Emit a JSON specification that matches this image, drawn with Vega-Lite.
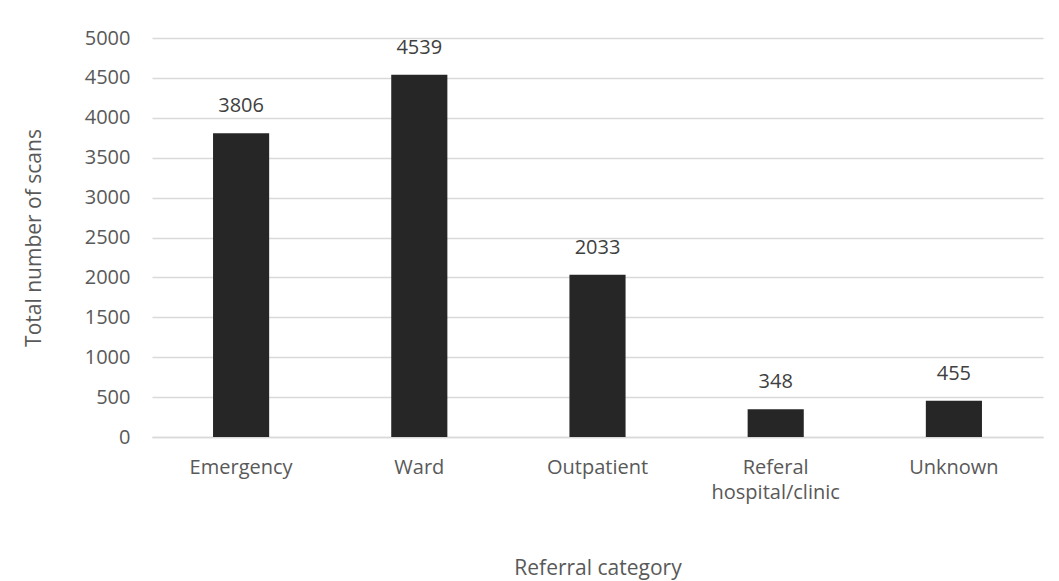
{
  "$schema": "https://vega.github.io/schema/vega-lite/v6.json",
  "width": 891,
  "height": 399,
  "autosize": {"type": "none"},
  "padding": {"left": 152, "top": 38, "right": 16, "bottom": 144},
  "background": "white",
  "config": {
    "font": "Open Sans",
    "view": {"stroke": null},
    "axis": {"labelColor": "#595959", "titleColor": "#595959", "labelFont": "Open Sans", "titleFont": "Open Sans", "titleFontWeight": "normal"}
  },
  "data": {"values": [
    {"category": "Emergency", "scans": 3806},
    {"category": "Ward", "scans": 4539},
    {"category": "Outpatient", "scans": 2033},
    {"category": "Referal hospital/clinic", "scans": 348},
    {"category": "Unknown", "scans": 455}
  ]},
  "encoding": {
    "x": {
      "field": "category", "type": "nominal", "sort": null,
      "scale": {"paddingInner": 0.685, "paddingOuter": 0.3425},
      "axis": {
        "title": "Referral category", "titleFontSize": 21, "titlePadding": 55,
        "labelAngle": 0, "labelFontSize": 20, "labelPadding": 20, "labelLineHeight": 25,
        "labelExpr": "datum.label == 'Referal hospital/clinic' ? ['Referal', 'hospital/clinic'] : datum.label",
        "ticks": false, "domainColor": "#d9d9d9", "domainWidth": 1.5
      }
    },
    "y": {
      "field": "scans", "type": "quantitative",
      "scale": {"domain": [0, 5000], "nice": false},
      "axis": {
        "title": "Total number of scans", "titleFontSize": 21, "titlePadding": 40,
        "values": [0, 500, 1000, 1500, 2000, 2500, 3000, 3500, 4000, 4500, 5000],
        "format": "d",
        "labelFontSize": 20, "labelPadding": 22, "ticks": false, "domain": false,
        "gridColor": "#d9d9d9", "gridWidth": 1.5
      }
    }
  },
  "layer": [
    {"mark": {"type": "bar", "color": "#262626"}},
    {"mark": {"type": "text", "dy": -17, "baseline": "bottom", "fontSize": 20, "color": "#404040", "font": "Open Sans"},
     "encoding": {"text": {"field": "scans", "type": "quantitative", "format": "d"}}}
  ]
}
